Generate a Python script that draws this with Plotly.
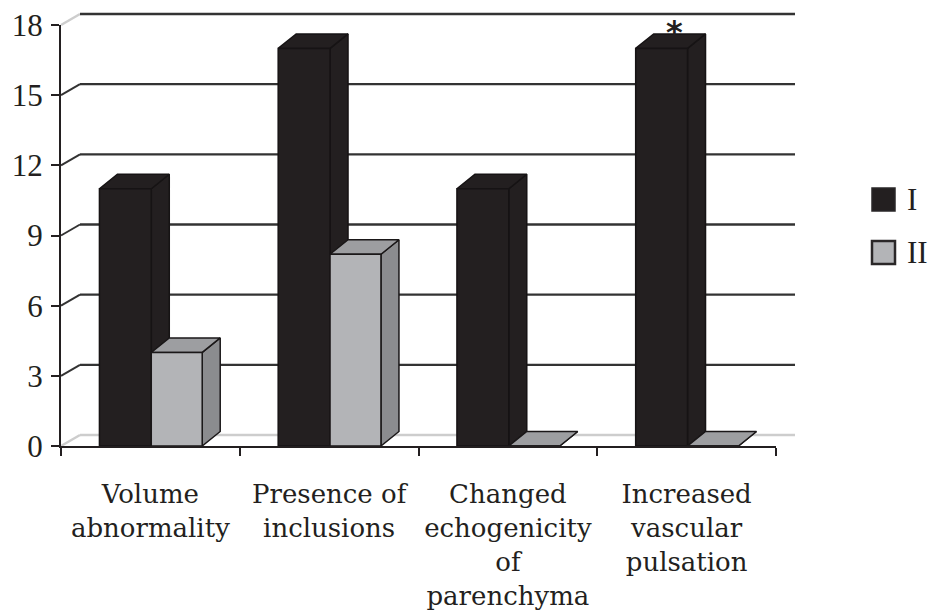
import plotly.graph_objects as go

# ---------------- data ----------------
categories = ["Volume<br>abnormality", "Presence of<br>inclusions",
              "Changed<br>echogenicity<br>of<br>parenchyma",
              "Increased<br>vascular<br>pulsation"]
series_names = ["I", "II"]
values_I = [11, 17, 11, 17]
values_II = [4, 8.2, 0, 0]
y_ticks = [0, 3, 6, 9, 12, 15, 18]
significant = [False, False, False, True]   # "*" marker

# ---------------- style / layout constants ----------------
OFF = 0                      # page body margin is removed by post_script
W, H = 931 - OFF, 610 - OFF
FONT = "DejaVu Serif"
NUMFONT = "Liberation Serif"
TXT = "#231f20"
FX0, FX1 = 61, 776        # screen px of x = 0 and x = ncat on the front plane
FY0, FY1 = 446, 25        # screen px of y = 0 and y = ymax on the front plane
NCAT = len(categories)
YMAX = y_ticks[-1]
SX = (FX1 - FX0) / NCAT
SY = (FY0 - FY1) / YMAX
WALL_DX, WALL_DY = 19 / SX, 11 / SY      # back wall offset (data units)
BAR_DX, BAR_DY = 18 / SX, 14.5 / SY      # bar depth offset (data units)
BAR_SLOTS = {"I": (0.215, 0.505), "II": (0.505, 0.79)}
COLORS = {
    "I": dict(front="#231f20", top="#231f20", side="#231f20", line="#161314"),
    "II": dict(front="#b3b4b7", top="#9d9ea1", side="#8b8c8f", line="#1a1718"),
}


def fx(p):
    return min(1.0, max(0.0, (p - OFF) / W))


def fy(p):
    return min(1.0, max(0.0, 1 - (p - OFF) / H))


fig = go.Figure()

# ---- back wall / gridlines (subplot xy, same scale as front, wider range) ----
DXR = (-0.2, NCAT + 0.3)
DYR = (-0.6, YMAX + 0.7)
gx, gy = [], []
dgx, dgy = [], []
lgx, lgy = [], []
for t in y_ticks:
    if t != y_ticks[0]:
        gx += [WALL_DX, NCAT + WALL_DX, None]
        gy += [t + WALL_DY, t + WALL_DY, None]
    if t in (y_ticks[0], y_ticks[-1]):
        lgx += [0, WALL_DX, None]
        lgy += [t, t + WALL_DY, None]
    else:
        dgx += [0, WALL_DX, None]
        dgy += [t, t + WALL_DY, None]
lgx += [WALL_DX, NCAT + WALL_DX, None]
lgy += [WALL_DY, WALL_DY, None]

fig.add_trace(go.Scatter(x=lgx, y=lgy, mode="lines", xaxis="x", yaxis="y",
                         line=dict(color="#cdcdcd", width=2.5), hoverinfo="skip", showlegend=False))
fig.add_trace(go.Scatter(x=gx, y=gy, mode="lines", xaxis="x", yaxis="y",
                         line=dict(color="#333333", width=2.4), hoverinfo="skip", showlegend=False))
fig.add_trace(go.Scatter(x=dgx, y=dgy, mode="lines", xaxis="x", yaxis="y",
                         line=dict(color="#333333", width=2), hoverinfo="skip", showlegend=False))


# ---- 3-D looking bars (subplot x2y2, front plane) ----
def faces(vals, slot):
    a, b = slot
    F = {"front": ([], []), "top": ([], []), "side": ([], [])}
    for i, v in enumerate(vals):
        x0, x1 = i + a, i + b
        fxs, fys = F["front"]
        fxs += [x0, x1, x1, x0, x0, None]
        fys += [0, 0, v, v, 0, None]
        txs, tys = F["top"]
        txs += [x0, x0 + BAR_DX, x1 + BAR_DX, x1, x0, None]
        tys += [v, v + BAR_DY, v + BAR_DY, v, v, None]
        sxs, sys_ = F["side"]
        sxs += [x1, x1 + BAR_DX, x1 + BAR_DX, x1, x1, None]
        sys_ += [0, BAR_DY, v + BAR_DY, v, 0, None]
    return F


for name, vals in zip(series_names, [values_I, values_II]):
    F = faces(vals, BAR_SLOTS[name])
    c = COLORS[name]
    for face in ("side", "top", "front"):
        xs, ys = F[face]
        fig.add_trace(go.Scatter(x=xs, y=ys, mode="lines", fill="toself",
                                 fillcolor=c[face], xaxis="x2", yaxis="y2",
                                 line=dict(color=c["line"], width=1.5),
                                 name=name, hoverinfo="skip", showlegend=False))

# asterisk
a, b = BAR_SLOTS["I"]
for i, (v, s) in enumerate(zip(values_I, significant)):
    if s:
        fig.add_annotation(x=i + (a + b + BAR_DX) / 2, y=v, xref="x2", yref="y2",
                           text="<b>*</b>", showarrow=False, yanchor="middle",
                           xshift=4, yshift=16, font=dict(family="DejaVu Sans", size=32, color=TXT))

# ---- legend (manual, large swatches) ----
leg_rows = [(188, 211), (241, 264)]
for name, (t, btm) in zip(series_names, leg_rows):
    c = COLORS[name]
    fig.add_shape(type="rect", xref="paper", yref="paper",
                  x0=fx(872), x1=fx(895), y0=fy(btm), y1=fy(t),
                  fillcolor=c["front"], line=dict(color="#2a2728", width=1.5 if name == "I" else 2.5))
    fig.add_annotation(xref="paper", yref="paper", x=fx(905), y=fy((t + btm) / 2),
                       xanchor="left", yanchor="middle", text=name, showarrow=False,
                       font=dict(family=NUMFONT, size=31, color=TXT))

fig.update_layout(
    width=W, height=H, autosize=False,
    margin=dict(l=0, r=0, t=0, b=0),
    paper_bgcolor="white", plot_bgcolor="rgba(0,0,0,0)",
    template="none", showlegend=False,
    font=dict(family=FONT, size=26, color=TXT),
    xaxis=dict(range=list(DXR), domain=[fx(FX0 + DXR[0] * SX), fx(FX0 + DXR[1] * SX)],
               visible=False, anchor="y", fixedrange=True),
    yaxis=dict(range=list(DYR), domain=[fy(FY0 - DYR[0] * SY), fy(FY0 - DYR[1] * SY)],
               visible=False, anchor="x", fixedrange=True),
    xaxis2=dict(range=[0, NCAT], domain=[fx(FX0), fx(FX1)], anchor="y2",
                tickmode="array", tickvals=[i + 0.5 for i in range(NCAT)], ticktext=categories,
                ticks="", showgrid=False, zeroline=False,
                showline=True, linecolor=TXT, linewidth=2,
                minor=dict(tickmode="array", tickvals=list(range(NCAT + 1)), ticks="outside",
                           ticklen=8, tickwidth=2, tickcolor=TXT, showgrid=False),
                tickfont=dict(family=FONT, size=26, color=TXT), ticklabelstandoff=24,
                ticklabeloverflow="allow", fixedrange=True),
    yaxis2=dict(range=[0, YMAX], domain=[fy(FY0), fy(FY1)], anchor="x2",
                tickmode="array", tickvals=y_ticks, ticks="outside", ticklen=8, tickwidth=2,
                tickcolor=TXT, showgrid=False, zeroline=False,
                showline=True, linecolor=TXT, linewidth=2,
                tickfont=dict(family=NUMFONT, size=31, color=TXT), ticklabelstandoff=2,
                ticklabeloverflow="allow", fixedrange=True),
)

fig.write_html("out.html", config={"displayModeBar": False},
               post_script="document.body.style.margin='0';document.body.style.overflow='hidden';")
